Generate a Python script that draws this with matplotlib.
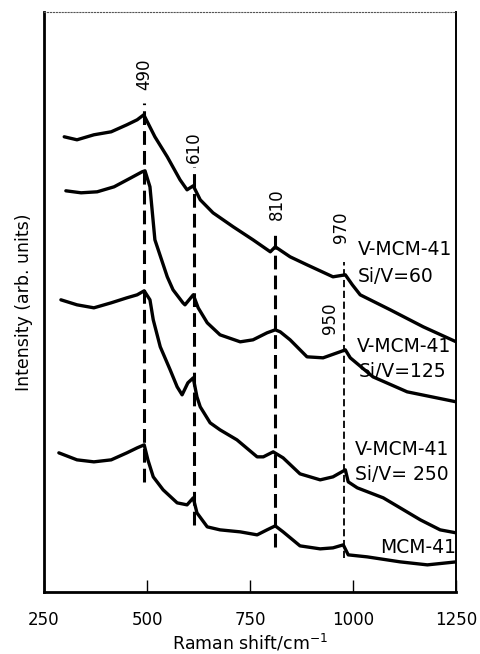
import matplotlib
matplotlib.use("Agg")
import matplotlib.pyplot as plt

# === Spectra (Raman shift in cm-1, intensity in arb. units) ===
shift_60 = [299, 330, 371, 413, 451, 476, 492, 519, 549, 580, 597, 612, 629, 660, 709,
            757, 799, 811, 847, 888, 951, 981, 998, 1017, 1090, 1170, 1250]
int_60 = [455, 452, 457, 460, 467, 472, 477, 455, 435, 412, 402, 406, 392, 379, 365,
          352, 340, 345, 335, 327, 315, 317, 307, 297, 282, 265, 250]

shift_125 = [303, 340, 379, 420, 461, 488, 495, 507, 519, 549, 563, 587, 592, 612, 624,
             646, 677, 726, 757, 791, 811, 823, 847, 888, 927, 968, 981, 993, 1048,
             1131, 1250]
int_125 = [401, 399, 400, 405, 414, 420, 421, 405, 352, 315, 302, 289, 287, 297, 284,
           269, 257, 250, 252, 259, 262, 260, 252, 235, 234, 240, 242, 234, 215,
           200, 190]

shift_250 = [291, 330, 371, 413, 451, 476, 493, 507, 515, 532, 556, 573, 585, 599, 612,
             621, 629, 653, 677, 718, 767, 782, 806, 830, 871, 920, 951, 981, 988,
             1010, 1073, 1114, 1163, 1211, 1250]
int_250 = [292, 287, 284, 289, 294, 297, 301, 292, 272, 245, 222, 205, 197, 209, 214,
           195, 185, 169, 162, 152, 135, 135, 140, 134, 118, 112, 115, 122, 110,
           104, 94, 84, 72, 62, 59]

shift_mcm = [286, 330, 371, 413, 451, 476, 493, 502, 515, 539, 573, 597, 612, 621, 646,
             677, 726, 767, 791, 811, 830, 871, 920, 951, 976, 988, 1034, 1114, 1180,
             1250]
int_mcm = [139, 132, 130, 132, 139, 144, 147, 132, 115, 102, 89, 87, 94, 79, 65,
           62, 60, 57, 62, 66, 60, 46, 43, 44, 47, 37, 35, 30, 27, 30]

# peak markers: position, dashed line span, label and label height
peak_pos = [493, 614, 811, 978]
peak_lo = [110, 67, 45, 34]
peak_hi = [489, 425, 357, 330]
peak_text = ["490", "610", "810", "970"]
peak_text_x = [493, 614, 816, 971]
peak_text_y = [518, 445, 388, 365]

xticks = [250, 500, 750, 1000, 1250]

fig = plt.figure(figsize=(4.81, 6.54), dpi=100)
ax = fig.add_axes([0.0915, 0.095, 0.857, 0.887])

for xs, ys in [(shift_60, int_60), (shift_125, int_125),
               (shift_250, int_250), (shift_mcm, int_mcm)]:
    ax.plot(xs, ys, color="black", lw=2.4, solid_joinstyle="round", solid_capstyle="round")

for i, (p, lo, hi) in enumerate(zip(peak_pos, peak_lo, peak_hi)):
    if i == 3:
        ax.plot([p, p], [lo, hi], color="black", lw=1.3, dashes=(4, 2))
    else:
        ax.plot([p, p], [lo, hi], color="black", lw=2.2, dashes=(4.5, 2))

for t, tx, ty in zip(peak_text, peak_text_x, peak_text_y):
    ax.text(tx, ty, t, rotation=90, ha="center", va="center", fontsize=12)
ax.text(944, 274, "950", rotation=90, ha="center", va="center", fontsize=12)

# sample labels
lab = dict(fontsize=13.5, ha="left", va="center", clip_on=True)
ax.text(1012, 342, "V-MCM-41", **lab)
ax.text(1012, 315, "Si/V=60", **lab)
ax.text(1010, 245, "V-MCM-41", **lab)
ax.text(1014, 220, "Si/V=125", **lab)
ax.text(1005, 142, "V-MCM-41", **lab)
ax.text(1005, 117, "Si/V= 250", **lab)
ax.text(1250, 44, "MCM-41", fontsize=13.5, ha="right", va="center", clip_on=True)

ax.set_xlim(250, 1250)
ax.set_ylim(0, 580)
ax.set_xticks(xticks)
ax.tick_params(axis="x", direction="in", length=9, width=1, labelsize=12, pad=14)
ax.set_yticks([])

ax.spines["left"].set_linewidth(2)
ax.spines["bottom"].set_linewidth(2)
ax.spines["right"].set_linewidth(1.4)
ax.spines["top"].set_linewidth(0.8)
ax.spines["top"].set_linestyle(":")
ax.spines["top"].set_color("#555555")

ax.set_xlabel("Raman shift/cm$^{-1}$", fontsize=12.5, labelpad=2)
ax.set_ylabel("Intensity (arb. units)", fontsize=12.5, labelpad=8)

fig.savefig("out.png", dpi=100)
